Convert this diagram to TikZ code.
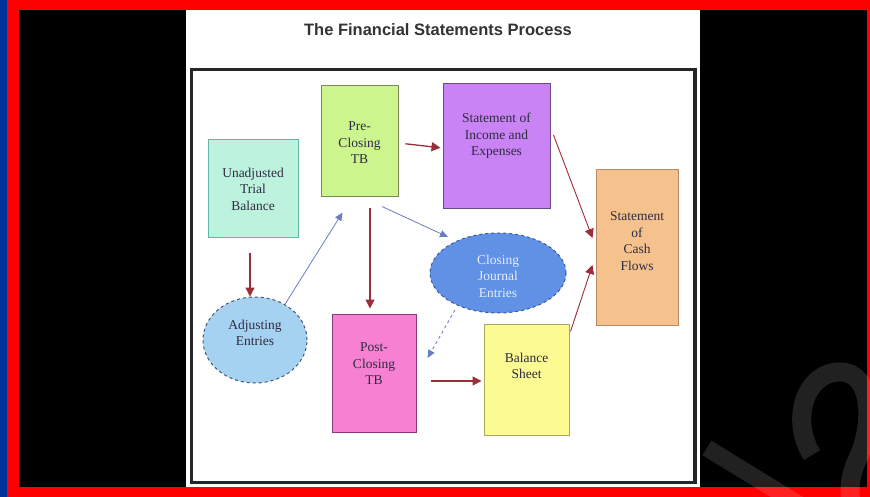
\documentclass[tikz,border=0pt]{standalone}
\usepackage{fontspec}
\setmainfont{Liberation Serif}
\newfontfamily\titlefont{Liberation Sans}
\usetikzlibrary{shapes.geometric,arrows.meta}
\definecolor{bandblue}{HTML}{003399}
\definecolor{frameRed}{HTML}{FF0000}
\definecolor{arrowred}{HTML}{9A2F3A}
\definecolor{arrowblue}{HTML}{6A7CC2}
\definecolor{txt}{HTML}{2E2A40}
\definecolor{uaF}{HTML}{BDF3DE}\definecolor{uaD}{HTML}{5FB9A6}
\definecolor{pcF}{HTML}{CDF58E}\definecolor{pcD}{HTML}{7A8A50}
\definecolor{sieF}{HTML}{C983F4}\definecolor{sieD}{HTML}{6A4A8A}
\definecolor{scfF}{HTML}{F5C28E}\definecolor{scfD}{HTML}{B98A66}
\definecolor{cjeF}{HTML}{6091E4}\definecolor{cjeD}{HTML}{3A5AA0}\definecolor{cjeT}{HTML}{E4EEFF}
\definecolor{aeF}{HTML}{A6D2F2}\definecolor{aeD}{HTML}{445577}
\definecolor{pclF}{HTML}{F680D2}\definecolor{pclD}{HTML}{8A3A7A}
\definecolor{bsF}{HTML}{FBFB92}\definecolor{bsD}{HTML}{A9A85A}
\tikzset{
  box/.style={draw, line width=1pt, inner sep=0pt},
  lbl/.style={align=center, text=txt, inner sep=0pt, font=\fontsize{13.5}{16.5}\selectfont},
  redarr/.style={draw=arrowred, line width=1.3pt, -{Triangle[length=9pt,width=9pt]}},
  bluearr/.style={draw=arrowblue, line width=0.8pt, -{Triangle[length=8pt,width=7pt]}},
}
\begin{document}
\begin{tikzpicture}[x=1pt,y=-1pt]
\useasboundingbox (0,0) rectangle (870,497);
% background and borders
\fill[bandblue] (0,0) rectangle (7,497);
\fill[frameRed] (7,0) rectangle (870,497);
\fill[black] (19,10) rectangle (867,487);
\fill[white] (186,10) rectangle (700,487);
% title
\node[font=\titlefont\bfseries\fontsize{16.5}{19}\selectfont, text=black!80] (title) at (438,30) {The Financial Statements Process};
% frame
\draw[line width=3.5pt, color=black!85] (191.5,69.5) rectangle (695,482.5);
% boxes
\node[box, fill=uaF, draw=uaD, minimum width=90pt, minimum height=98pt, lbl] (ua) at (253,189) {Unadjusted\\Trial\\Balance};
\node[box, fill=pcF, draw=pcD, minimum width=77pt, minimum height=111pt] (pc) at (359.5,141.5) {};
\node[lbl] (pct) at (359.5,143) {Pre-\\Closing\\TB};
\node[box, fill=sieF, draw=sieD, minimum width=107pt, minimum height=125pt] (sie) at (496.5,146.5) {};
\node[lbl] (siet) at (496.5,136) {Statement of\\Income and\\Expenses};
\node[box, fill=scfF, draw=scfD, minimum width=82pt, minimum height=156pt] (scf) at (637,247.5) {};
\node[lbl] (scft) at (637,241) {Statement\\of\\Cash\\Flows};
\node[ellipse, box, dashed, fill=cjeF, draw=cjeD, minimum width=136pt, minimum height=80pt] (cje) at (498,273) {};
\node[lbl, text=cjeT] (cjet) at (498,276) {Closing\\Journal\\Entries};
\node[ellipse, box, dashed, fill=aeF, draw=aeD, minimum width=104pt, minimum height=86pt] (ae) at (255,340) {};
\node[lbl] (aet) at (255,333) {Adjusting\\Entries};
\node[box, fill=pclF, draw=pclD, minimum width=84pt, minimum height=118pt] (pcl) at (374,373) {};
\node[lbl] (pclt) at (374,364) {Post-\\Closing\\TB};
\node[box, fill=bsF, draw=bsD, minimum width=85pt, minimum height=111pt] (bs) at (526.5,379.5) {};
\node[lbl] (bst) at (526.5,366) {Balance\\Sheet};
% connectors
\draw[redarr] ([xshift=-3pt,yshift=-14pt]ua.south) -- ([xshift=-5pt]ae.north);
\draw[bluearr] (ae.50) -- ([xshift=22pt,yshift=-15pt]pc.south west);
\draw[redarr, shorten <=7pt, shorten >=2pt] ([yshift=-1.5pt]pc.east) -- ([yshift=-1.5pt]sie.west);
\draw[redarr, shorten <=11pt, shorten >=5pt] ([xshift=10.5pt]pc.south) -- ([xshift=-4pt]pcl.north);
\draw[bluearr] ([xshift=22.5pt,yshift=-9pt]pc.south) -- ([xshift=-50pt,yshift=36pt]cje.center);
\draw[redarr, line width=0.9pt] ([xshift=3pt,yshift=11.5pt]sie.east) -- ([xshift=-3pt,yshift=9.5pt]scf.west);
\draw[redarr, line width=0.9pt] ([xshift=1pt,yshift=-8pt]bs.north east) -- ([xshift=-3pt,yshift=-17.5pt]scf.west);
\draw[bluearr, dashed] ([xshift=-43pt,yshift=-37pt]cje.center) -- ([xshift=11pt,yshift=15pt]pcl.east);
\draw[redarr] ([xshift=14pt,yshift=-8pt]pcl.east) -- ([xshift=-2pt,yshift=-1.5pt]bs.west);
% watermark
\begin{scope}
\clip (700,10) rectangle (870,497);
\draw[white, opacity=0.13, line width=17pt] (707,448) -- (800,505);
\draw[white, opacity=0.13, line width=19pt] (812,455) .. controls (790,420) and (805,372) .. (840,372) .. controls (875,372) and (872,430) .. (858,458) .. controls (850,475) and (848,490) .. (852,505);
\end{scope}
\end{tikzpicture}
\end{document}
